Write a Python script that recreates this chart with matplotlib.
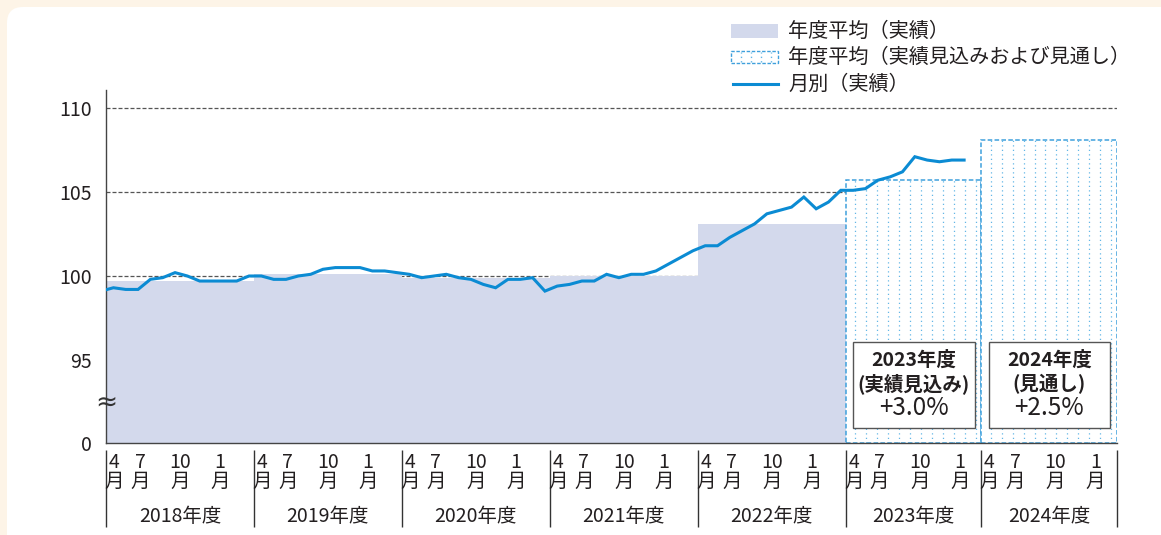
import matplotlib.pyplot as plt
import matplotlib.transforms as mtransforms
from matplotlib.patches import FancyBboxPatch, Rectangle
from matplotlib.lines import Line2D

plt.rcParams['font.family'] = ['Noto Sans CJK JP', 'DejaVu Sans']

# fiscal years and annual averages (2020 = 100)
fiscal_years = ['2018年度', '2019年度', '2020年度', '2021年度', '2022年度', '2023年度', '2024年度']
annual_actual = [99.7, 100.1, 99.9, 100.0, 103.1]
annual_outlook = [105.7, 108.1]
outlook_titles = ['2023年度', '2024年度']
outlook_kinds = ['(実績見込み)', '(見通し)']
outlook_growth = ['+3.0%', '+2.5%']

# monthly index, April 2018 .. February 2024
monthly = [
    99.1, 99.3, 99.2, 99.2, 99.8, 99.9, 100.2, 100.0, 99.7, 99.7, 99.7, 99.7,
    100.0, 100.0, 99.8, 99.8, 100.0, 100.1, 100.4, 100.5, 100.5, 100.5, 100.3, 100.3,
    100.2, 100.1, 99.9, 100.0, 100.1, 99.9, 99.8, 99.5, 99.3, 99.8, 99.8, 99.9,
    99.1, 99.4, 99.5, 99.7, 99.7, 100.1, 99.9, 100.1, 100.1, 100.3, 100.7, 101.1,
    101.5, 101.8, 101.8, 102.3, 102.7, 103.1, 103.7, 103.9, 104.1, 104.7, 104.0, 104.4,
    105.1, 105.1, 105.2, 105.7, 105.9, 106.2, 107.1, 106.9, 106.8, 106.9, 106.9,
]
month_ticks = ['4', '7', '10', '1']
y_ticks = [95, 100, 105, 110]
legend_labels = ['年度平均（実績）', '年度平均（実績見込みおよび見通し）', '月別（実績）']

# layout
W, H = 1161, 535
YEAR_SPAN = [12, 12, 12, 12, 12, 11, 11]   # axis width of each fiscal year, in months
TICK_OFFSETS = [0.65, 2.75, 6.0, 9.25]
MONTH_SHIFT = -0.4
AXIS_FLOOR = 90.06                          # broken axis: this level reads as 0
Y_TOP = 111.07

BAR = '#d3d9ec'
LINE = '#0b8bd3'
BOX_EDGE = '#3fa0dc'
DOTS = '#62b6e6'
TXT = '#231f20'
GRID = '#555555'
FS = 14

edges = [0]
for span in YEAR_SPAN:
    edges.append(edges[-1] + span)


def fx(px):
    return px / W


def fy(py):
    return 1 - py / H


fig = plt.figure(figsize=(W / 100, H / 100), dpi=100)
fig.patch.set_facecolor('#fdf4e7')
fig.add_artist(FancyBboxPatch((0.07, -0.5), 12.0, 5.78,
                              boxstyle='round,pad=0,rounding_size=0.16',
                              transform=fig.dpi_scale_trans,
                              facecolor='white', edgecolor='none', zorder=-10))

ax = fig.add_axes([fx(106), fy(443), fx(1117 - 106), (443 - 90) / H])
ax.patch.set_alpha(0)
ax.set_xlim(edges[0], edges[-1])
ax.set_ylim(AXIS_FLOOR, Y_TOP)

for v in y_ticks[1:]:
    ax.axhline(v, color=GRID, lw=0.9, dashes=(3.2, 1.6), zorder=0.5)

# annual averages (actual)
n_act = len(annual_actual)
ax.bar(edges[:n_act], [v - AXIS_FLOOR for v in annual_actual], width=YEAR_SPAN[:n_act],
       bottom=AXIS_FLOOR, align='edge', color=BAR, linewidth=0, zorder=1)

# annual averages (estimate / outlook): white boxes with dotted columns
out_x = edges[n_act:n_act + len(annual_outlook)]
out_w = YEAR_SPAN[n_act:]
ax.bar(out_x, [v - AXIS_FLOOR for v in annual_outlook], width=out_w, bottom=AXIS_FLOOR,
       align='edge', facecolor='white', edgecolor=BOX_EDGE, linewidth=1.1,
       linestyle=(0, (3, 1.5)), zorder=2)
for x0, w, top in zip(out_x, out_w, annual_outlook):
    cols = []
    c = x0 + 0.75
    while c < x0 + w - 0.3:
        cols.append(c)
        c += 0.89
    ax.vlines(cols, AXIS_FLOOR, top, colors=DOTS, linewidth=0.9,
              linestyles=[(0, (1, 2.6))], zorder=2.1)

# monthly line
months_x = [i + MONTH_SHIFT for i in range(len(monthly))]
ax.plot(months_x, monthly, color=LINE, lw=2.2, solid_joinstyle='miter', zorder=3)

# note boxes inside the outlook years
for x0, w, t1, t2, t3 in zip(out_x, out_w, outlook_titles, outlook_kinds, outlook_growth):
    ax.add_patch(Rectangle((x0 + 0.6, 90.95), w - 1.15, 5.12, facecolor='white',
                           edgecolor='#555555', linewidth=1.0, zorder=4))
    cx = x0 + 0.6 + (w - 1.15) / 2
    ax.text(cx, 95.0, t1, ha='center', va='center', fontsize=14, fontweight='bold',
            color=TXT, zorder=5)
    ax.text(cx, 93.57, t2, ha='center', va='center', fontsize=14, fontweight='bold',
            color=TXT, zorder=5)
    ax.text(cx, 92.14, t3, ha='center', va='center', fontsize=17.5, color=TXT, zorder=5)

# axes
for side in ('top', 'right'):
    ax.spines[side].set_visible(False)
for side in ('left', 'bottom'):
    ax.spines[side].set_color('#444444')
    ax.spines[side].set_linewidth(1.0)
    ax.spines[side].set_zorder(2.5)
ax.set_yticks([AXIS_FLOOR] + y_ticks)
ax.set_yticklabels(['0'] + [str(v) for v in y_ticks])
ax.tick_params(axis='y', length=0, pad=10, labelsize=FS, labelcolor=TXT)
ax.set_xticks([])

# axis break mark
ax.text(0, 92.44, '≈', ha='center', va='center', fontsize=19, color='#333333',
        family='DejaVu Sans', clip_on=False, zorder=6)

# month / fiscal year labels under the axis
below = mtransforms.blended_transform_factory(ax.transData, ax.transAxes)


def ay(py):
    return (443 - py) / (443 - 90)


ax.vlines(edges, ay(450), ay(527), colors='#333333', linewidth=1.0,
          transform=below, clip_on=False)
for k, name in enumerate(fiscal_years):
    for off, m in zip(TICK_OFFSETS, month_ticks):
        ax.text(edges[k] + off, ay(462), m, transform=below, ha='center', va='center',
                fontsize=FS, color=TXT)
        ax.text(edges[k] + off, ay(481), '月', transform=below, ha='center', va='center',
                fontsize=FS, color=TXT)
    ax.text((edges[k] + edges[k + 1]) / 2, ay(516), name, transform=below,
            ha='center', va='center', fontsize=FS, color=TXT)

# legend
fig.add_artist(Rectangle((fx(731), fy(38)), fx(47), 14 / H, transform=fig.transFigure,
                         facecolor=BAR, edgecolor='none'))
fig.add_artist(Rectangle((fx(731), fy(63)), fx(47), 12 / H, transform=fig.transFigure,
                         facecolor='white', edgecolor=BOX_EDGE, linewidth=1.0,
                         linestyle=(0, (2.5, 1.2))))
for px in (741, 751, 761, 771):
    fig.add_artist(Line2D([fx(px), fx(px)], [fy(62), fy(52)], transform=fig.transFigure,
                          color=DOTS, lw=1.0, linestyle=(0, (1, 2.2))))
fig.add_artist(Line2D([fx(733), fx(778)], [fy(84), fy(84)], transform=fig.transFigure,
                      color=LINE, lw=2.2))
for py, label in zip((31, 57, 84), legend_labels):
    fig.text(fx(788), fy(py), label, ha='left', va='center', fontsize=14.5, color=TXT)

fig.savefig('out.png', dpi=100, facecolor=fig.get_facecolor())
